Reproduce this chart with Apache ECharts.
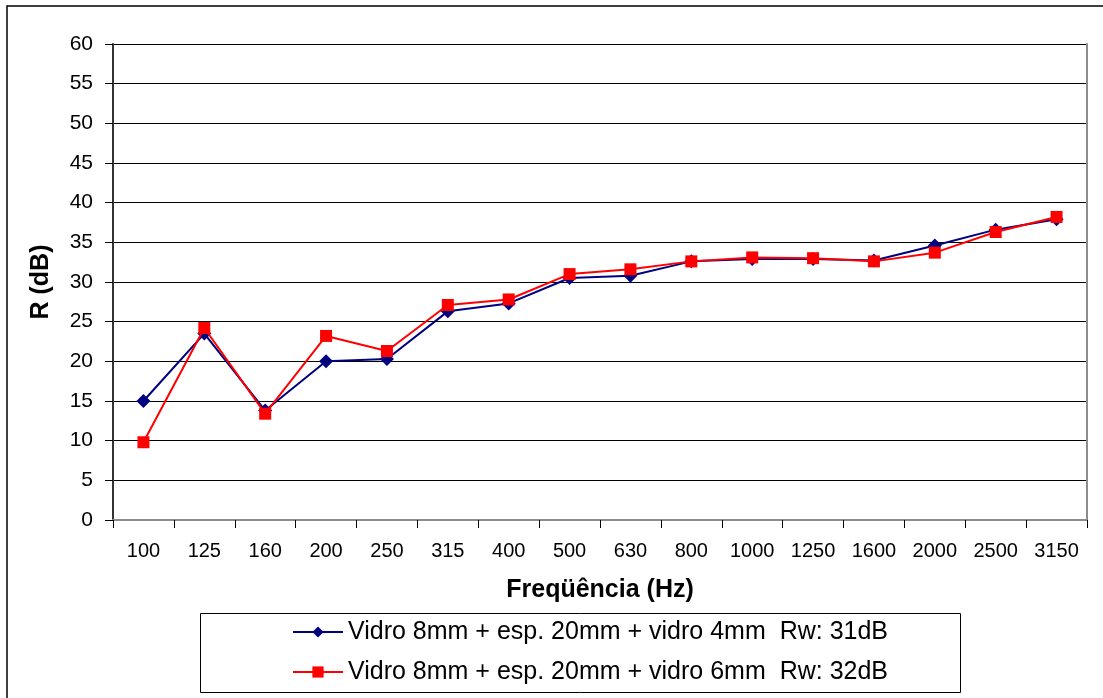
<!DOCTYPE html>
<html>
<head>
<meta charset="utf-8">
<script src="https://cdn.jsdelivr.net/npm/echarts@6.0.0/dist/echarts.min.js"></script>
<style>
  html, body { margin: 0; padding: 0; background: #fff; }
  #chart { width: 1103px; height: 698px; }
</style>
</head>
<body>
<div id="chart"></div>
<script>
// frequencies (Hz)
var freqs = ['100', '125', '160', '200', '250', '315', '400', '500', '630', '800', '1000', '1250', '1600', '2000', '2500', '3150'];
// R (dB)
var vidro4 = [15.0, 23.5, 13.8, 20.0, 20.3, 26.3, 27.3, 30.5, 30.8, 32.6, 32.9, 32.9, 32.7, 34.6, 36.6, 37.9];
var vidro6 = [9.8, 24.2, 13.4, 23.2, 21.3, 27.1, 27.8, 31.0, 31.6, 32.6, 33.1, 33.0, 32.6, 33.7, 36.3, 38.2];
var names = [
  'Vidro 8mm + esp. 20mm + vidro 4mm  Rw: 31dB',
  'Vidro 8mm + esp. 20mm + vidro 6mm  Rw: 32dB'
];

var font = 'Liberation Sans, Arial, sans-serif';
var chart = echarts.init(document.getElementById('chart'));

var option = {
  animation: false,
  backgroundColor: '#fff',
  textStyle: { fontFamily: font },
  grid: { left: 113, top: 44, right: 16, bottom: 178, containLabel: false },
  graphic: [
    {
      type: 'rect',
      shape: { x: 7, y: 6, width: 1110, height: 710 },
      style: { fill: 'none', stroke: '#000', lineWidth: 1.5 },
      silent: true
    },
    {
      type: 'rect',
      shape: { x: 200.5, y: 613.5, width: 760, height: 79 },
      style: { fill: '#fff', stroke: '#000', lineWidth: 1 },
      silent: true
    }
  ],
  legend: {
    orient: 'vertical',
    left: 292,
    top: 619,
    padding: 0,
    itemWidth: 50,
    itemHeight: 14,
    itemGap: 14,
    textStyle: { fontFamily: font, fontSize: 25, lineHeight: 26, color: '#000' },
    data: names
  },
  xAxis: [
    {
      type: 'category',
      data: freqs,
      boundaryGap: true,
      axisLine: { lineStyle: { color: '#333', width: 2 } },
      axisTick: { show: true, length: 8, alignWithLabel: false, lineStyle: { color: '#000' } },
      axisLabel: { fontSize: 20, color: '#000', margin: 21, interval: 0 },
      splitLine: { show: false },
      name: 'Freqüência (Hz)',
      nameLocation: 'middle',
      nameGap: 58,
      nameTextStyle: { fontSize: 25, fontWeight: 'bold', color: '#000' }
    },
    {
      type: 'category',
      data: freqs,
      position: 'top',
      axisLine: { lineStyle: { color: '#8c8c8c', width: 2 } },
      axisTick: { show: false },
      axisLabel: { show: false }
    }
  ],
  yAxis: [
    {
      type: 'value',
      min: 0,
      max: 60,
      interval: 5,
      axisLine: { show: true, lineStyle: { color: '#333', width: 2 } },
      axisTick: { show: true, length: 8, lineStyle: { color: '#000' } },
      axisLabel: { fontSize: 21, color: '#000', margin: 20 },
      splitLine: { show: true, lineStyle: { color: '#000', width: 1 } },
      name: 'R (dB)',
      nameLocation: 'middle',
      nameGap: 59,
      nameTextStyle: { fontSize: 25, fontWeight: 'bold', color: '#000' }
    },
    {
      type: 'value',
      min: 0,
      max: 60,
      position: 'right',
      axisLine: { show: true, lineStyle: { color: '#8c8c8c', width: 2 } },
      axisTick: { show: false },
      axisLabel: { show: false },
      splitLine: { show: false }
    }
  ],
  series: [
    {
      name: names[0],
      type: 'line',
      data: vidro4,
      symbol: 'diamond',
      symbolSize: 14,
      color: '#000080',
      lineStyle: { color: '#000080', width: 2 },
      itemStyle: { color: '#000080' },
      z: 3
    },
    {
      name: names[1],
      type: 'line',
      data: vidro6,
      symbol: 'rect',
      symbolSize: 12,
      color: '#ff0000',
      lineStyle: { color: '#ff0000', width: 2 },
      itemStyle: { color: '#ff0000' },
      z: 4
    }
  ]
};

chart.setOption(option);
</script>
</body>
</html>
